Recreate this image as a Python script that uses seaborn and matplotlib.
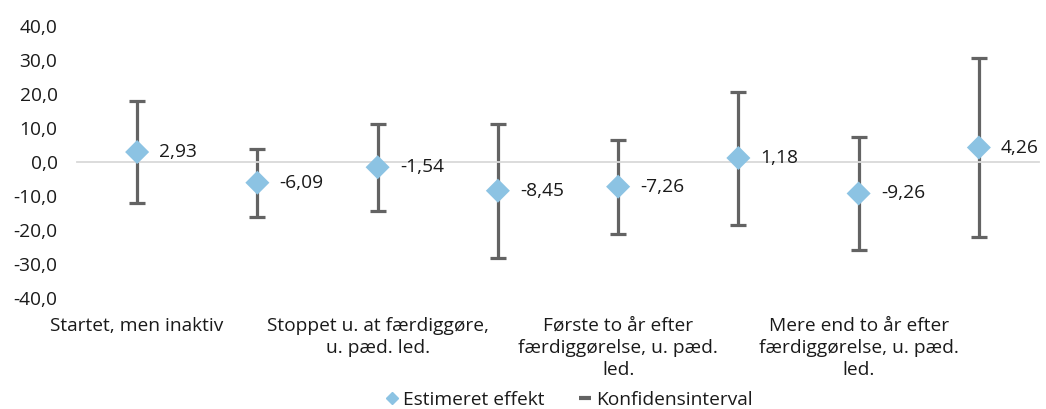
import matplotlib
matplotlib.use("Agg")
import matplotlib.pyplot as plt
import matplotlib.transforms as mtransforms
from matplotlib.lines import Line2D
import seaborn as sns
import pandas as pd

# ---- data ----
categories = [
    "Startet, men inaktiv",
    "",
    "Stoppet u. at færdiggøre,\nu. pæd. led.",
    "",
    "Første to år efter\nfærdiggørelse, u. pæd.\nled.",
    "",
    "Mere end to år efter\nfærdiggørelse, u. pæd.\nled.",
    "",
]
effect = [2.93, -6.09, -1.54, -8.45, -7.26, 1.18, -9.26, 4.26]
ci_lower = [-12.1, -16.1, -14.4, -28.3, -21.1, -18.4, -26.0, -22.1]
ci_upper = [17.9, 3.8, 11.2, 11.2, 6.5, 20.7, 7.3, 30.5]
yticks = [-40, -30, -20, -10, 0, 10, 20, 30, 40]
legend_labels = ["Estimeret effekt", "Konfidensinterval"]

df = pd.DataFrame({
    "pos": list(range(len(effect))),
    "effect": effect,
    "lo": ci_lower,
    "hi": ci_upper,
})

sns.set_theme(style="white")
plt.rcParams["font.family"] = ["Open Sans", "DejaVu Sans"]

marker_color = "#8CC3E3"
err_color = "#636363"
text_color = "#1a1a1a"
fs = 13.8

fig = plt.figure(figsize=(10.46, 4.09), dpi=100)
ax = fig.add_axes([77 / 1046, 1 - 298 / 409, (1039 - 77) / 1046, (298 - 26) / 409])

# error bars
ax.errorbar(df["pos"], df["effect"],
            yerr=[df["effect"] - df["lo"], df["hi"] - df["effect"]],
            fmt="none", ecolor=err_color, elinewidth=2.3, capsize=5.5,
            capthick=2.3, zorder=2)
# points
sns.scatterplot(data=df, x="pos", y="effect", marker="D", s=150,
                color=marker_color, edgecolor="none", ax=ax, zorder=3,
                legend=False)

# data labels
for x, v in zip(df["pos"], df["effect"]):
    ax.annotate(f"{v:.2f}".replace(".", ","), (x, v), xytext=(16, 0),
                textcoords="offset points", ha="left", va="center",
                fontsize=fs, color=text_color)

ax.set_xlim(-0.5, len(effect) - 0.5)
ax.set_ylim(-40, 40)
ax.set_yticks(yticks)
ax.set_yticklabels([f"{t:.1f}".replace(".", ",") for t in yticks],
                   fontsize=fs, color=text_color)
ax.tick_params(axis="y", length=0, pad=14)

# x axis at zero with tick marks between categories
for s in ["top", "right", "left"]:
    ax.spines[s].set_visible(False)
ax.spines["bottom"].set_position(("data", 0))
ax.spines["bottom"].set_color("#d9d9d9")
ax.spines["bottom"].set_linewidth(1.3)
ax.set_xticks([i - 0.5 for i in range(len(effect) + 1)])
ax.set_xticklabels([])
ax.tick_params(axis="x", direction="out", length=6, width=1.3, color="#d9d9d9")
ax.set_xlabel("")
ax.set_ylabel("")

# category labels under plot area
trans = mtransforms.blended_transform_factory(ax.transData, ax.transAxes)
for i, lab in enumerate(categories):
    if lab:
        ax.text(i, -0.07, lab, transform=trans, ha="center", va="top",
                fontsize=fs, color=text_color, linespacing=1.3)

# legend
handles = [
    Line2D([], [], marker="D", linestyle="none", color=marker_color, markersize=6.5),
    Line2D([], [], marker="_", linestyle="none", color=err_color,
           markersize=9, markeredgewidth=3),
]
fig.legend(handles, legend_labels, loc="lower center", bbox_to_anchor=(0.544, -0.042),
           ncol=2, frameon=False, fontsize=fs, handlelength=0.7, handletextpad=0.2,
           columnspacing=1.8, labelcolor=text_color)

fig.savefig("out.png", dpi=100)
